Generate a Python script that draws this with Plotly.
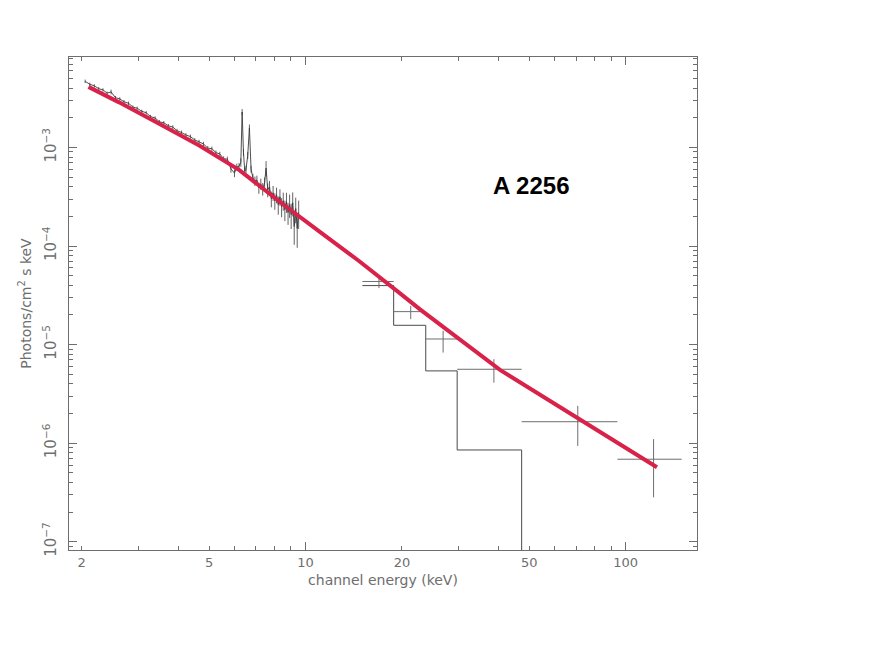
import plotly.graph_objects as go

# ── Low-energy spectrum (2-10 keV) ───────────────────────────────────────────
spec_energy = [
    2.05, 2.12, 2.19, 2.26, 2.33, 2.40, 2.47, 2.55, 2.63, 2.71, 2.80, 2.89, 2.98,
    3.08, 3.18, 3.28, 3.39, 3.50, 3.61, 3.73, 3.85, 3.97, 4.10, 4.23, 4.37, 4.51,
    4.65, 4.80, 4.95, 5.10, 5.25, 5.40, 5.55, 5.70, 5.85, 6.00, 6.10, 6.20, 6.28,
    6.34, 6.40, 6.46, 6.52, 6.60, 6.68, 6.76, 6.85, 6.95, 7.05, 7.15, 7.25, 7.35,
    7.45, 7.53, 7.62, 7.72, 7.82, 7.92, 8.02, 8.12, 8.22, 8.32, 8.42, 8.52, 8.62,
    8.72, 8.82, 8.92, 9.02, 9.12, 9.22, 9.32, 9.42, 9.52,
]
spec_flux = [
    4.69e-3, 4.38e-3, 4.22e-3, 3.95e-3, 3.84e-3, 3.56e-3, 3.66e-3, 3.20e-3, 3.11e-3,
    2.91e-3, 2.81e-3, 2.57e-3, 2.50e-3, 2.33e-3, 2.25e-3, 2.06e-3, 1.99e-3, 1.82e-3,
    1.78e-3, 1.66e-3, 1.61e-3, 1.48e-3, 1.42e-3, 1.34e-3, 1.29e-3, 1.19e-3, 1.14e-3,
    1.087e-3, 9.86e-4, 9.72e-4, 8.87e-4, 8.59e-4, 7.68e-4, 7.62e-4, 6.05e-4, 5.50e-4,
    6.35e-4, 6.44e-4, 7.08e-4, 2.29e-3, 8.91e-4, 5.75e-4, 6.03e-4, 8.32e-4, 1.58e-3,
    6.03e-4, 4.90e-4, 4.57e-4, 4.68e-4, 3.89e-4, 4.27e-4, 3.80e-4, 4.37e-4, 6.17e-4,
    3.72e-4, 3.98e-4, 3.02e-4, 3.47e-4, 2.88e-4, 3.31e-4, 2.63e-4, 3.16e-4, 2.51e-4,
    2.88e-4, 2.34e-4, 2.82e-4, 2.19e-4, 2.63e-4, 2.09e-4, 2.75e-4, 1.58e-4, 2.40e-4,
    1.51e-4, 2.19e-4,
]
spec_err = [
    1.9e-4, 1.7e-4, 1.7e-4, 1.6e-4, 1.5e-4, 1.4e-4, 2.0e-4, 1.3e-4, 1.2e-4, 1.2e-4,
    1.1e-4, 1.0e-4, 1.0e-4, 9e-5, 9e-5, 8e-5, 8e-5, 7.5e-5, 7.5e-5, 7e-5, 7e-5,
    6.5e-5, 6.5e-5, 6e-5, 6e-5, 5.5e-5, 5.5e-5, 5.5e-5, 5e-5, 5e-5, 4.5e-5, 4.5e-5,
    4.5e-5, 4.5e-5, 5e-5, 5e-5, 5e-5, 5e-5, 7e-5, 1.6e-4, 7e-5, 5e-5, 5e-5, 7e-5,
    1.3e-4, 5e-5, 5e-5, 5e-5, 5e-5, 5e-5, 5.5e-5, 5.5e-5, 6e-5, 1.1e-4, 6e-5, 6e-5,
    5.5e-5, 6e-5, 5.5e-5, 6e-5, 5.5e-5, 6e-5, 5.5e-5, 6e-5, 5.5e-5, 6.5e-5, 5.5e-5,
    7e-5, 6e-5, 7.5e-5, 5.5e-5, 7e-5, 5.5e-5, 7e-5,
]

# ── Hard X-ray points (crosses) ──────────────────────────────────────────────
hx_energy = [16.96, 21.31, 26.90, 38.76, 70.85, 122.2]
hx_elow = [15.05, 18.85, 23.74, 29.76, 47.32, 94.23]
hx_ehigh = [18.85, 23.74, 29.76, 47.32, 94.23, 149.6]
hx_flux = [4.37e-5, 2.16e-5, 1.14e-5, 5.62e-6, 1.65e-6, 6.87e-7]
hx_fhigh = [4.98e-5, 2.47e-5, 1.38e-5, 7.11e-6, 2.39e-6, 1.10e-6]
hx_flow = [3.74e-5, 1.81e-5, 8.30e-6, 4.11e-6, 9.37e-7, 2.82e-7]

# ── Step histogram (bin edges / levels) ──────────────────────────────────────
step_edges = [15.05, 18.85, 23.74, 29.76, 47.32]
step_levels = [3.97e-5, 1.57e-5, 5.41e-6, 8.53e-7, 1e-9]

# ── Best-fit model curve ─────────────────────────────────────────────────────
model_energy = [2.10, 2.617, 3.491, 4.658, 6.215, 8.287, 11.06, 14.76, 19.69,
                22.73, 40.5, 71.9, 125.2]
model_flux = [4.12e-3, 2.87e-3, 1.74e-3, 1.045e-3, 5.90e-4, 2.83e-4, 1.40e-4,
              6.97e-5, 3.33e-5, 2.29e-5, 5.54e-6, 1.72e-6, 5.69e-7]

y_ticks = [1e-7, 1e-6, 1e-5, 1e-4, 1e-3]
y_labels = ["10<sup>\u22127</sup>", "10<sup>\u22126</sup>", "10<sup>\u22125</sup>",
            "10<sup>\u22124</sup>", "10<sup>\u22123</sup>"]

GREY = "#6e6e6e"
FONT = "DejaVu Sans, sans-serif"

fig = go.Figure()

fig.add_trace(go.Scatter(
    x=spec_energy, y=spec_flux, mode="lines",
    line=dict(color="#3a3a3a", width=0.9),
    error_y=dict(type="data", array=spec_err, color="#3a3a3a", thickness=0.8, width=0),
    showlegend=False,
))

fig.add_trace(go.Scatter(
    x=step_edges, y=step_levels, mode="lines", line_shape="hv",
    line=dict(color="#4a4a4a", width=1),
    showlegend=False,
))

fig.add_trace(go.Scatter(
    x=hx_energy, y=hx_flux, mode="markers",
    marker=dict(size=1, color="rgba(0,0,0,0)"),
    error_x=dict(type="data", symmetric=False,
                 array=[h - c for h, c in zip(hx_ehigh, hx_energy)],
                 arrayminus=[c - l for c, l in zip(hx_energy, hx_elow)],
                 color=GREY, thickness=1, width=0),
    error_y=dict(type="data", symmetric=False,
                 array=[h - c for h, c in zip(hx_fhigh, hx_flux)],
                 arrayminus=[c - l for c, l in zip(hx_flux, hx_flow)],
                 color=GREY, thickness=1, width=0),
    showlegend=False,
))

fig.add_trace(go.Scatter(
    x=model_energy, y=model_flux, mode="lines",
    line=dict(color="#d8224a", width=4),
    showlegend=False,
))

# dummy trace so the overlay axis (long decade ticks) gets drawn
fig.add_trace(go.Scatter(x=[], y=[], xaxis="x2", showlegend=False))

minor_x = [3, 4, 6, 7, 8, 9, 30, 40, 60, 70, 80, 90]
minor_y = [m * 10.0 ** e for e in range(-8, -2) for m in range(2, 10)]

fig.update_layout(
    width=872, height=654,
    margin=dict(l=61, r=183, t=49, b=112),
    paper_bgcolor="white", plot_bgcolor="white",
    font=dict(family=FONT, color=GREY, size=13),
    xaxis=dict(
        type="log", range=[0.2613, 2.2227],
        tickvals=[2, 5, 10, 20, 50, 100], ticktext=["2", "5", "10", "20", "50", "100"],
        ticks="inside", ticklen=4, tickcolor=GREY,
        minor=dict(tickvals=minor_x, ticks="inside", ticklen=4, tickcolor=GREY),
        showline=True, linecolor=GREY, linewidth=1, mirror="ticks",
        showgrid=False, zeroline=False,
        tickfont=dict(size=13, color=GREY),
        title=dict(text="channel energy (keV)", font=dict(size=14, color=GREY), standoff=6),
    ),
    xaxis2=dict(
        type="log", range=[0.2613, 2.2227], overlaying="x", side="bottom",
        tickvals=[10, 100], showticklabels=False,
        ticks="inside", ticklen=8, tickcolor=GREY, mirror="ticks",
        showline=False, showgrid=False, zeroline=False,
    ),
    yaxis=dict(
        type="log", range=[-7.084, -2.082],
        tickvals=y_ticks, ticktext=y_labels, tickangle=-90,
        ticks="inside", ticklen=8, tickcolor=GREY,
        minor=dict(tickvals=minor_y, ticks="inside", ticklen=4, tickcolor=GREY),
        showline=True, linecolor=GREY, linewidth=1, mirror="ticks",
        showgrid=False, zeroline=False, ticklabelstandoff=6,
        tickfont=dict(size=15, color=GREY),
        title=dict(text="Photons/cm<sup>2</sup> s keV", font=dict(size=14, color=GREY), standoff=4),
    ),
    annotations=[dict(
        x=1.7073, y=-3.389, xref="x", yref="y", text="<b>A 2256</b>",
        showarrow=False, font=dict(family="Liberation Sans, Arial, sans-serif", size=24, color="black"),
    )],
)

fig.write_html("out.html")
